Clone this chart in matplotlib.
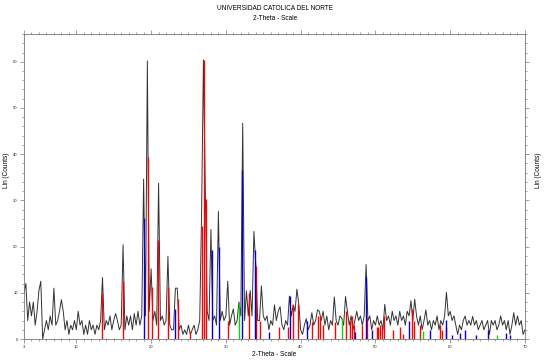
import numpy as np
import matplotlib
matplotlib.use('Agg')
import matplotlib.pyplot as plt
from matplotlib.ticker import MultipleLocator, FixedLocator

# Measured pattern, 2-theta from 3 to 70 in steps of 0.25 deg
theta_start, theta_step = 3.0, 0.25
counts = [
    10, 12, 4, 8, 5, 8, 3, 6, 10.5, 12.5, 0, 2, 4, 2, 5, 3, 11, 3, 4, 6,          # 3.00 - 7.75
    8.5, 6, 2, 4, 1, 3, 2, 4, 2, 6, 3, 4, 1, 3, 1, 4, 2, 3, 1, 3,                # 8.00 - 12.75
    2, 4, 13.3, 2, 4, 3, 5, 2, 4, 5.5, 4, 2, 3, 20.4, 2, 5, 3, 5, 2, 5.5,        # 13.00 - 17.75
    3, 6, 3, 5, 34.6, 5, 60.2, 6, 15.2, 4, 6, 3, 33.7, 4, 5, 3, 4, 17.9, 3, 2,   # 18.00 - 22.75
    2, 11, 11, 2, 3, 1, 2, 1, 3, 1, 2, 3, 1, 2, 4, 27, 60.4, 31.7, 6, 4,         # 23.00 - 27.75
    23.7, 4, 5, 3, 27.6, 4, 6, 4, 5, 12.5, 3, 5, 6.5, 3, 4, 8, 5, 46.7, 4, 10.4, # 28.00 - 32.75
    5, 10.5, 5, 23.3, 16, 4, 4, 11.5, 5, 4, 5, 2, 4, 3, 7.4, 4, 6, 7, 3, 2,      # 33.00 - 37.75
    4, 3, 9.3, 5, 7.4, 6, 10.8, 7.6, 2, 1, 3, 4.4, 2, 3, 5.7, 3, 4, 6.3, 6, 4,   # 38.00 - 42.75
    6, 3, 5, 2, 4, 3, 9.1, 4, 3, 5, 4.5, 3, 9.2, 6, 3, 5, 2, 4, 6, 4,            # 43.00 - 47.75
    5, 3, 5, 16.1, 4, 5, 2, 4, 3, 5, 3, 4, 2, 7.5, 4, 5, 3, 6, 4, 5,             # 48.00 - 52.75
    3, 6, 4, 5, 3, 6, 5, 8.3, 4, 8.6, 5, 3, 5, 2, 4, 6.3, 3, 4, 2, 4,            # 53.00 - 57.75
    3, 5, 2, 4, 3, 5, 10.1, 5, 6, 4, 5, 3, 1, 3, 2, 4, 5, 3, 4, 3,               # 58.00 - 62.75
    4.9, 3, 4, 2, 3, 4, 2, 3, 4, 1, 4, 3, 4, 2, 3, 5, 3, 4, 2, 4,                # 63.00 - 67.75
    1, 3, 5.7, 3, 5, 3, 4, 1, 2,                                                 # 68.00 - 70.00
]

# Reference pattern sticks (phase markers)
red_pos = [13.47, 16.3, 19.55, 20.07, 20.96, 22.3, 23.55, 25.2, 26.85, 27.07, 27.34,
           30.25, 33.13, 34.05, 34.6, 37.05, 38.25, 39.0, 39.7, 41.5, 42.35, 42.6, 43.0,
           44.6, 46.1, 46.6, 46.9, 47.1, 48.15, 48.82, 50.15, 50.4, 50.6, 50.85, 51.15,
           52.4, 53.3, 53.7, 54.95, 55.2, 55.95, 58.6, 58.85, 59.5]
red_height = [9.9, 12.5, 39.4, 11.2, 21.4, 11.2, 8.7, 1.5, 24.4, 60.4, 30.2,
              4, 10, 15.7, 4, 2.7, 2.7, 7.4, 7.6, 3.7, 5, 5, 3,
              3.7, 6, 4, 5, 3, 3, 4.5, 2.7, 2.7, 3, 2.7, 4.9,
              2, 2.5, 1, 6.4, 4, 3, 3, 2, 2.7]
blue_pos = [19.05, 23.19, 28.1, 29.03, 32.15, 33.84, 35.8, 38.56, 40.8, 47.25, 48.73,
            49.5, 54.5, 57.3, 59.4, 60.2, 61.3, 62.0, 63.4, 65.1, 67.45, 68.0]
blue_height = [26.2, 6.5, 19.3, 20, 36.5, 19.3, 1.5, 9.3, 4, 1.5, 13.4,
               2, 4, 2, 4.2, 0.8, 1.3, 2, 0.8, 2, 1.2, 0.8]
green_pos = [31.7, 45.5, 56.4, 66.2]
green_height = [7.7, 4.5, 1.7, 0.8]

two_theta = theta_start + theta_step * np.arange(len(counts))

plt.rcParams['font.family'] = ['Liberation Sans', 'DejaVu Sans']

fig = plt.figure(figsize=(5.5, 3.62), dpi=100)
ax = fig.add_axes([0.0436, 0.0635, 0.9109, 0.8425])

ax.plot(two_theta, counts, color='#333333', linewidth=0.7, zorder=2)
ax.vlines(red_pos, 0, red_height, color='#ff0000', linewidth=1.0, zorder=3)
ax.vlines(blue_pos, 0, blue_height, color='#0000dd', linewidth=1.0, zorder=3)
ax.vlines(green_pos, 0, green_height, color='#00dd00', linewidth=1.0, zorder=3)

ax.set_xlim(3, 70)
ax.set_ylim(0, 66)
ax.xaxis.set_major_locator(FixedLocator([3, 10, 20, 30, 40, 50, 60, 70]))
ax.xaxis.set_minor_locator(MultipleLocator(1))
ax.yaxis.set_major_locator(MultipleLocator(10))
ax.yaxis.set_minor_locator(MultipleLocator(2))
ax.tick_params(which='both', direction='out', colors='#777777', labelcolor='#222222',
               top=True, right=True, labelsize=3, width=0.5, pad=1.5)
ax.tick_params(which='major', length=3)
ax.tick_params(which='minor', length=1.5)
for s in ax.spines.values():
    s.set_color('#777777')
    s.set_linewidth(0.6)

fig.text(0.5, 0.977, 'UNIVERSIDAD CATOLICA DEL NORTE', ha='center', va='center', fontsize=4.7)
fig.text(0.5, 0.950, '2-Theta - Scale', ha='center', va='center', fontsize=4.7)
fig.text(0.498, 0.022, '2-Theta - Scale', ha='center', va='center', fontsize=4.7)
fig.text(0.011, 0.53, 'Lin (Counts)', rotation=90, ha='center', va='center', fontsize=4.7)
fig.text(0.980, 0.53, 'Lin (Counts)', rotation=90, ha='center', va='center', fontsize=4.7)

fig.savefig('out.png', dpi=100)
